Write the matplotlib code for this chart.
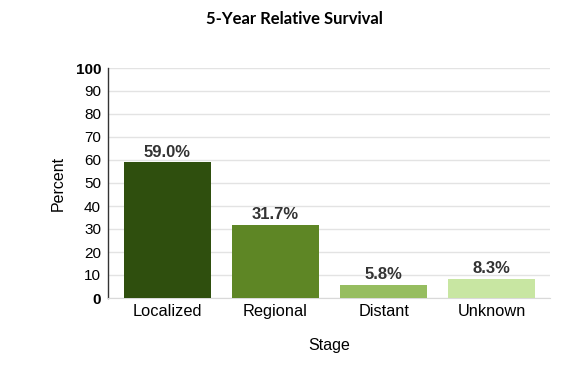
import matplotlib
matplotlib.use("Agg")
import matplotlib.pyplot as plt

categories = ["Localized", "Regional", "Distant", "Unknown"]
values = [59.0, 31.7, 5.8, 8.3]
colors = ["#2f4f0e", "#5e8625", "#96bd60", "#c8e6a2"]
yticks = [0, 10, 20, 30, 40, 50, 60, 70, 80, 90, 100]

fig = plt.figure(figsize=(5.88, 3.66), dpi=100)
ax = fig.add_axes([108/588, 1-298/366, (550-108)/588, (298-68)/366])

x = list(range(len(categories)))
bars = ax.bar(x, values, width=0.8, color=colors, zorder=3)
for xi, v in zip(x, values):
    ax.text(xi, v + 1.2, f"{v:.1f}%", ha="center", va="bottom",
            fontsize=12, fontweight="bold", color="#333333", family="Liberation Sans")

ax.set_xlim(-0.55, 3.54)
ax.set_ylim(0, 100)
ax.set_yticks(yticks)
ax.set_yticklabels([str(t) for t in yticks], fontsize=11, family="Liberation Sans")
for lbl, t in zip(ax.get_yticklabels(), yticks):
    if t in (0, 100):
        lbl.set_fontweight("bold")
ax.set_xticks(x)
ax.set_xticklabels(categories, fontsize=11.8, family="Liberation Sans")
ax.tick_params(axis="x", length=0, pad=4)
ax.tick_params(axis="y", length=0, pad=5)

ax.grid(axis="y", color="#e3e3e3", linewidth=1, zorder=0)
for s in ["top", "right"]:
    ax.spines[s].set_visible(False)
ax.spines["bottom"].set_color("#d9d9d9")
ax.spines["left"].set_color("#333333")
ax.spines["left"].set_linewidth(1.0)

ax.set_ylabel("Percent", fontsize=11.5, family="Liberation Sans", labelpad=7)
ax.set_xlabel("Stage", fontsize=11.5, family="Liberation Sans", labelpad=14)

fig.text(0.5, 1-19/366, "5-Year Relative Survival", ha="center", va="center",
         fontsize=12, fontweight="bold", family="Lato")

fig.savefig("out.png", dpi=100)
